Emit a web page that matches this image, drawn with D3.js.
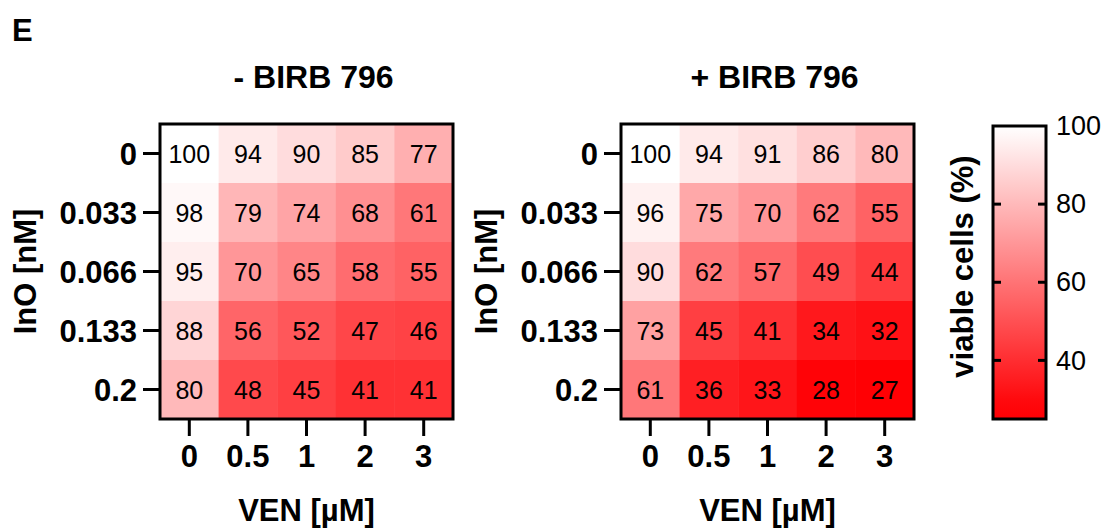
<!DOCTYPE html>
<html>
<head>
<meta charset="utf-8">
<script src="https://cdn.jsdelivr.net/npm/d3@7"></script>
<style>
  body { margin: 0; background: #fff; }
  svg { font-family: "Liberation Sans", Arial, sans-serif; }
</style>
</head>
<body>
<svg width="1109" height="529"></svg>
<script>
const venLabels = ['0', '0.5', '1', '2', '3'];
const inoLabels = ['0', '0.033', '0.066', '0.133', '0.2'];

// rows = InO, columns = VEN
const minusBirb = [
  [100, 94, 90, 85, 77],
  [98, 79, 74, 68, 61],
  [95, 70, 65, 58, 55],
  [88, 56, 52, 47, 46],
  [80, 48, 45, 41, 41]
];
const plusBirb = [
  [100, 94, 91, 86, 80],
  [96, 75, 70, 62, 55],
  [90, 62, 57, 49, 44],
  [73, 45, 41, 34, 32],
  [61, 36, 33, 28, 27]
];
const colorbarTicks = [40, 60, 80, 100];

const svg = d3.select('svg');
const boxW = 293, boxH = 295, boxTop = 124;

const color = d3.scaleLinear()
  .domain([27, 100])
  .range(['#ff0004', '#ffffff'])
  .clamp(true);

svg.append('text')
  .attr('x', 12).attr('y', 41)
  .attr('font-size', 31).attr('font-weight', 'bold')
  .text('E');

function panel(left, title, data) {
  const g = svg.append('g')
    .attr('transform', `translate(${left},${boxTop})`);

  const x = d3.scaleBand().domain(venLabels).range([0, boxW]);
  const y = d3.scaleBand().domain(inoLabels).range([0, boxH]);

  const cells = data.flatMap((row, i) => row.map((v, j) => ({ino: inoLabels[i], ven: venLabels[j], v})));

  g.selectAll('.cell')
    .data(cells)
    .enter().append('rect')
      .attr('x', d => x(d.ven))
      .attr('y', d => y(d.ino))
      .attr('width', x.bandwidth() + 0.5)
      .attr('height', y.bandwidth() + 0.5)
      .attr('fill', d => color(d.v));

  g.selectAll('.val')
    .data(cells)
    .enter().append('text')
      .attr('x', d => x(d.ven) + x.bandwidth() / 2)
      .attr('y', d => y(d.ino) + y.bandwidth() / 2 + 9.5)
      .attr('text-anchor', 'middle')
      .attr('font-size', 25)
      .text(d => d.v);

  g.append('rect')
    .attr('width', boxW).attr('height', boxH)
    .attr('fill', 'none').attr('stroke', '#000').attr('stroke-width', 3);

  const yAxis = g.append('g')
    .attr('transform', 'translate(-1,0)')
    .call(d3.axisLeft(y).tickSize(16).tickPadding(6));
  const xAxis = g.append('g')
    .attr('transform', `translate(0,${boxH + 1})`)
    .call(d3.axisBottom(x).tickSize(16).tickPadding(4));

  [yAxis, xAxis].forEach(a => {
    a.select('.domain').remove();
    a.selectAll('line').attr('stroke-width', 3);
    a.selectAll('text')
      .attr('font-size', 31).attr('font-weight', 'bold')
      .attr('font-family', '"Liberation Sans", Arial, sans-serif')
      .attr('fill', '#000');
  });
  yAxis.selectAll('text').attr('dy', '0.36em');
  xAxis.selectAll('text').attr('dy', '0.88em');

  g.append('text')
    .attr('x', boxW / 2 + 7).attr('y', -36)
    .attr('text-anchor', 'middle')
    .attr('font-size', 32).attr('font-weight', 'bold')
    .text(title);

  g.append('text')
    .attr('x', boxW / 2).attr('y', boxH + 102)
    .attr('text-anchor', 'middle')
    .attr('font-size', 31).attr('font-weight', 'bold')
    .text('VEN [µM]');

  g.append('text')
    .attr('transform', `translate(-124,${boxH / 2}) rotate(-90)`)
    .attr('text-anchor', 'middle')
    .attr('font-size', 31).attr('font-weight', 'bold')
    .text('InO [nM]');
}

panel(160, '- BIRB 796', minusBirb);
panel(621, '+ BIRB 796', plusBirb);

// colour bar
const cb = {x: 993, y: 126, w: 53, h: 293};
const cy = d3.scaleLinear().domain([25, 100]).range([cb.y + cb.h, cb.y]);

const grad = svg.append('defs').append('linearGradient')
  .attr('id', 'cbGrad')
  .attr('x1', 0).attr('y1', 1).attr('x2', 0).attr('y2', 0);
d3.range(25, 101, 5).forEach(v => {
  grad.append('stop')
    .attr('offset', (v - 25) / 75)
    .attr('stop-color', color(v));
});

svg.append('rect')
  .attr('x', cb.x).attr('y', cb.y)
  .attr('width', cb.w).attr('height', cb.h)
  .attr('fill', 'url(#cbGrad)')
  .attr('stroke', '#000').attr('stroke-width', 3);

const cbAxis = svg.append('g')
  .attr('transform', `translate(${cb.x + cb.w},0)`)
  .call(d3.axisRight(cy).tickValues(colorbarTicks).tickSize(0).tickPadding(10));
cbAxis.select('.domain').remove();
cbAxis.selectAll('text')
  .attr('font-size', 27)
  .attr('font-family', '"Liberation Sans", Arial, sans-serif')
  .attr('fill', '#000');

svg.selectAll('.cbTick')
  .data(colorbarTicks.filter(t => t < 100))
  .enter().append('g')
  .each(function(t) {
    const gt = d3.select(this);
    gt.append('line')
      .attr('x1', cb.x).attr('x2', cb.x + 8)
      .attr('y1', cy(t)).attr('y2', cy(t))
      .attr('stroke', '#000').attr('stroke-width', 3);
    gt.append('line')
      .attr('x1', cb.x + cb.w - 8).attr('x2', cb.x + cb.w)
      .attr('y1', cy(t)).attr('y2', cy(t))
      .attr('stroke', '#000').attr('stroke-width', 3);
  });

svg.append('text')
  .attr('transform', `translate(973,${cb.y + cb.h / 2 - 6}) rotate(-90)`)
  .attr('text-anchor', 'middle')
  .attr('font-size', 31).attr('font-weight', 'bold')
  .text('viable cells (%)');
</script>
</body>
</html>
